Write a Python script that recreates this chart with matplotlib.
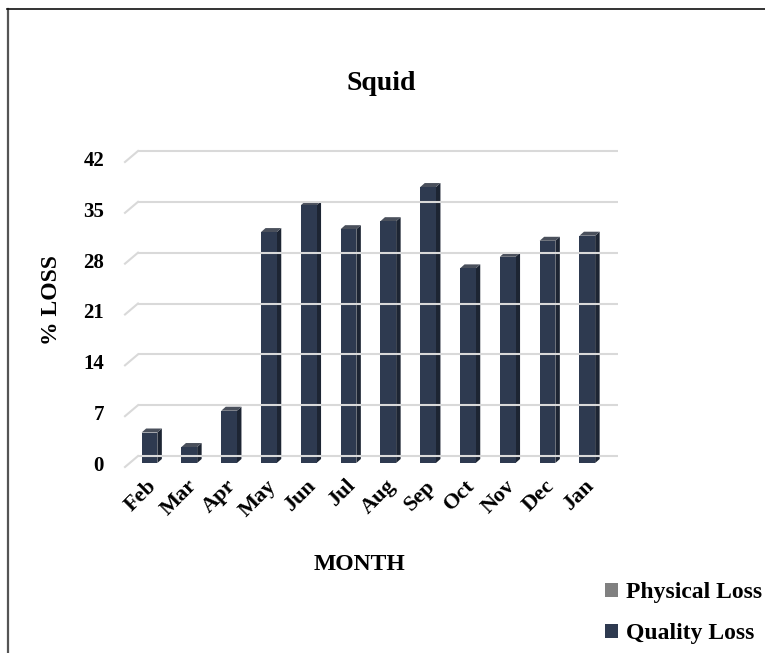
import matplotlib.pyplot as plt
import numpy as np
from matplotlib.patches import Polygon, Patch
from matplotlib.lines import Line2D

plt.rcParams['font.family'] = ['Liberation Serif', 'DejaVu Serif']
plt.rcParams['font.weight'] = 'bold'

months = ['Feb', 'Mar', 'Apr', 'May', 'Jun', 'Jul',
          'Aug', 'Sep', 'Oct', 'Nov', 'Dec', 'Jan']
quality_loss = [4.2, 2.2, 7.2, 31.8, 35.5, 32.2, 33.3, 38.0, 26.8, 28.4, 30.6, 31.3]
physical_loss = [0] * 12
yticks = [0, 7, 14, 21, 28, 35, 42]

W, H = 765, 653
fig = plt.figure(figsize=(W / 100, H / 100), dpi=100)

# plot area in pixels: left, top, right, bottom
L, T, R, B = 100, 140, 640, 480
ax = fig.add_axes([L / W, 1 - B / H, (R - L) / W, (B - T) / H])
ax.axis('off')

# scale: 39.8 px per category, 7.262 px per % unit
px_cat = 39.8
px_val = 305 / 42
x0 = 149.5
y0 = 456
ax.set_xlim((L - x0) / px_cat, (R - x0) / px_cat)
ax.set_ylim((y0 - B) / px_val, (y0 - T) / px_val)

def dx(px):
    return px / px_cat

def dy(px):
    return px / px_val

front_col = '#2E3A50'
side_col = '#1D2533'
top_col = '#4A505C'
grid_col = '#D9D9D9'

# back wall gridlines with a slanted stub toward the front
gx0, gx1 = dx(138 - x0), dx(618 - x0)
for v in yticks:
    ax.plot([gx0, gx1], [v, v], color=grid_col, lw=1.5, solid_capstyle='butt', clip_on=False)
    ax.plot([gx0 - dx(13), gx0], [v - dy(11), v], color=grid_col, lw=1.5, clip_on=False)
    ax.text(gx0 - dx(34), v - dy(10), str(v), ha='right', va='center',
            fontsize=15, fontweight='bold')

# 3D-looking columns: front face sits 7px below the back wall, depth 4.5px x 4px
bw = dx(15.7)
front_drop = dy(7)
ddx, ddy = dx(4.5), dy(4)
for i, v in enumerate(quality_loss):
    xl, xr = i - bw / 2, i + bw / 2
    yb, yt = -front_drop, v - front_drop
    ax.add_patch(Polygon([(xr, yb), (xr + ddx, yb + ddy), (xr + ddx, yt + ddy), (xr, yt)],
                         closed=True, fc=side_col, ec='none', clip_on=False))
    ax.add_patch(Polygon([(xl, yt), (xr, yt), (xr + ddx, yt + ddy), (xl + ddx, yt + ddy)],
                         closed=True, fc=top_col, ec='none', clip_on=False))
    ax.add_patch(Polygon([(xl, yb), (xr, yb), (xr, yt), (xl, yt)],
                         closed=True, fc=front_col, ec='none', clip_on=False))
    ax.text(i - dx(3), -dy(20), months[i], rotation=45, rotation_mode='anchor',
            ha='right', va='top', fontsize=16, fontweight='bold')

fig.text(381 / W, 1 - 83 / H, 'Squid', ha='center', va='center', fontsize=20, fontweight='bold')
fig.text(359 / W, 1 - 564 / H, 'MONTH', ha='center', va='center', fontsize=17, fontweight='bold')
fig.text(52 / W, 1 - 300 / H, '% LOSS', ha='center', va='center', rotation=90,
         fontsize=17, fontweight='bold')

handles = [Patch(fc='#808080', ec='none', label='Physical Loss'),
           Patch(fc=front_col, ec='none', label='Quality Loss')]
fig.legend(handles=handles, loc='upper left', bbox_to_anchor=(605 / W, 1 - 582 / H),
           frameon=False, fontsize=17, handlelength=0.55, handleheight=0.55,
           handletextpad=0.35, labelspacing=0.85, borderaxespad=0, borderpad=0)

# outer frame (top and left edges visible)
fig.add_artist(Line2D([8 / W, 8 / W], [0, 1 - 9 / H], color='#555555', lw=1.6,
                      transform=fig.transFigure))
fig.add_artist(Line2D([7 / W, 1], [1 - 9 / H, 1 - 9 / H], color='#111111', lw=1.2,
                      transform=fig.transFigure))

fig.savefig('out.png', dpi=100)
